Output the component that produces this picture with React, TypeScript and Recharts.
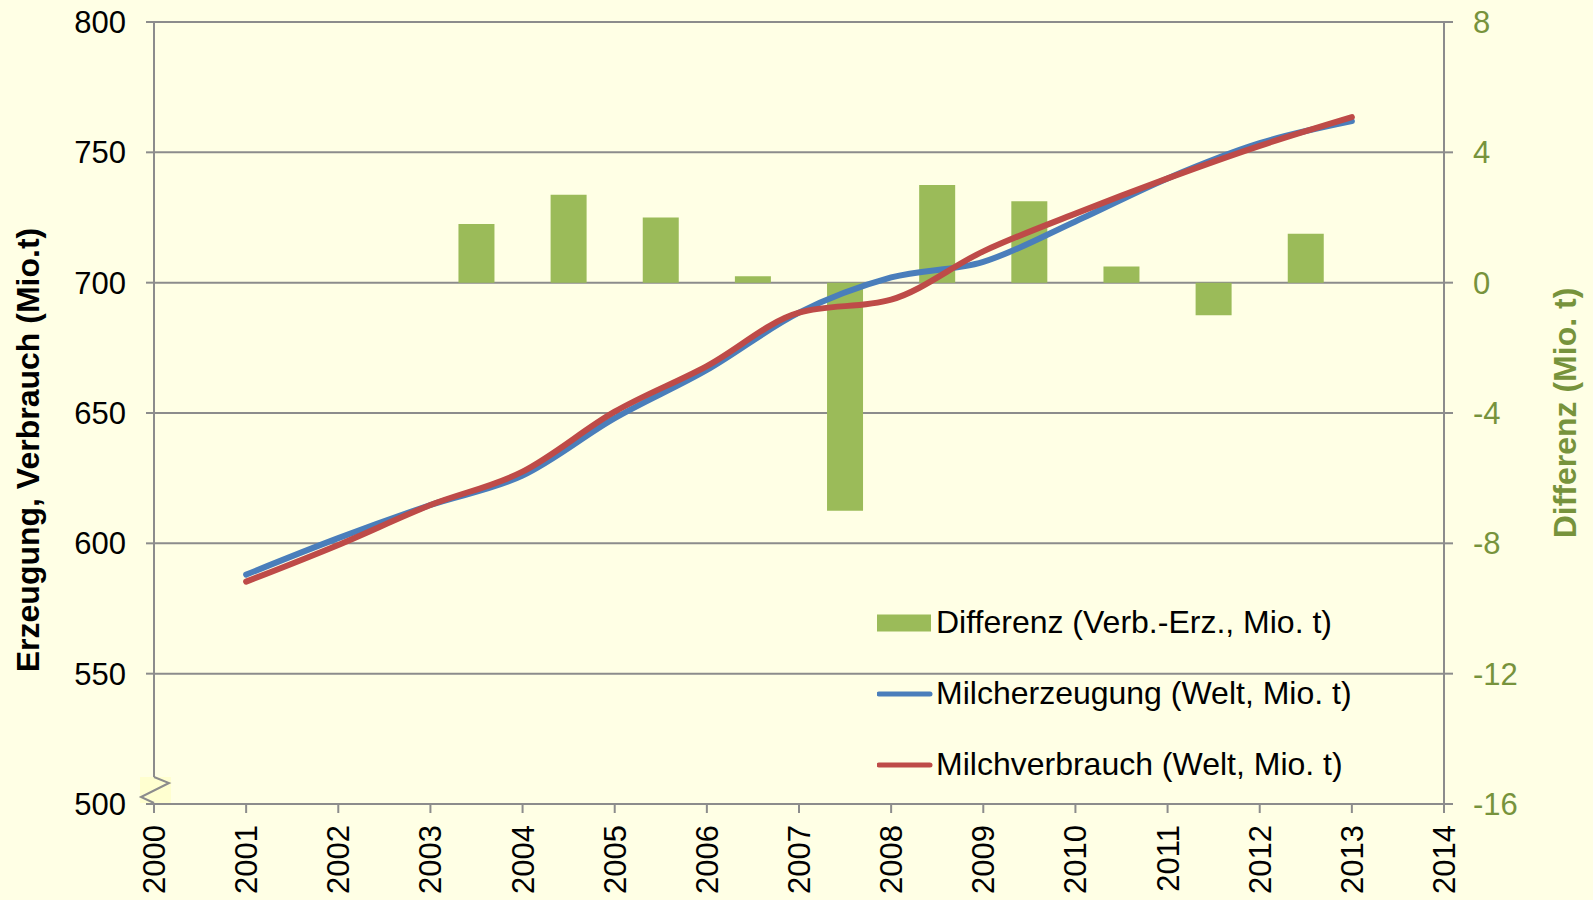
import React from "react";
import {
  Bar,
  CartesianGrid,
  ComposedChart,
  Legend,
  Line,
  XAxis,
  YAxis,
} from "recharts";

const years = [2001, 2002, 2003, 2004, 2005, 2006, 2007, 2008, 2009, 2010, 2011, 2012, 2013];
const erzeugung = [588, 602, 614.7, 626, 648, 666.5, 688.5, 702, 708, 723.5, 740, 753.5, 762];
const verbrauch = [585.3, 599.4, 614.7, 627.5, 650.5, 668, 688.5, 693.5, 712, 726.5, 740, 752.5, 763.5];

const diffYears = [2003.5, 2004.5, 2005.5, 2006.5, 2007.5, 2008.5, 2009.5, 2010.5, 2011.5, 2012.5];
const differenz = [1.8, 2.7, 2.0, 0.2, -7.0, 3.0, 2.5, 0.5, -1.0, 1.5];

const xTicks = [2000, 2001, 2002, 2003, 2004, 2005, 2006, 2007, 2008, 2009, 2010, 2011, 2012, 2013, 2014];
const leftTicks = [500, 550, 600, 650, 700, 750, 800];
const rightTicks = [-16, -12, -8, -4, 0, 4, 8];

const rows = [
  ...years.map((year, i) => ({ year, erzeugung: erzeugung[i], verbrauch: verbrauch[i] })),
  ...diffYears.map((year, i) => ({ year, differenz: differenz[i] })),
].sort((a, b) => a.year - b.year);

const FONT = "'Liberation Sans', Arial, sans-serif";
const GRID = "#8c8c8c";
const GREEN_TEXT = "#77933c";
const BG = "#ffffe5";

function YearTick({ x, y, payload }: any) {
  return (
    <g transform={`translate(${x},${y})`}>
      <text
        transform="rotate(-90)"
        textAnchor="end"
        dy="0.355em"
        fontSize={31}
        fontFamily={FONT}
        fill="#000"
      >
        {payload.value}
      </text>
    </g>
  );
}

// left tick; the lowest one also carries the axis-break mark
function LeftTick({ x, y, payload }: any) {
  const ax = x + 28;
  return (
    <g>
      {payload.value === 500 && (
        <g>
          <rect x={ax - 14} y={y - 27} width={31} height={26} fill="#ffffd0" />
          <polyline
            points={`${ax},${y - 27} ${ax + 15},${y - 21} ${ax - 13},${y - 7} ${ax},${y - 1}`}
            fill="none"
            stroke={GRID}
            strokeWidth={2}
          />
        </g>
      )}
      <text x={x} y={y} dy="0.355em" textAnchor="end" fontSize={31} fontFamily={FONT} fill="#000">
        {payload.value}
      </text>
    </g>
  );
}

function LegendBox({ payload }: any) {
  return (
    <div style={{ fontFamily: FONT, fontSize: 32, color: "#000" }}>
      {(payload || []).map((entry: any) => (
        <div key={entry.value} style={{ display: "flex", alignItems: "center", height: 71 }}>
          <svg width={59} height={20}>
            {entry.type === "rect" ? (
              <rect x={0} y={1.5} width={54} height={17} fill={entry.color} />
            ) : (
              <line x1={2} y1={10} x2={53} y2={10} stroke={entry.color} strokeWidth={5} strokeLinecap="round" />
            )}
          </svg>
          <span style={{ whiteSpace: "nowrap" }}>{entry.value}</span>
        </div>
      ))}
    </div>
  );
}

export default function App() {
  return (
    <div style={{ width: 1593, height: 900, background: BG }}>
      <style>{`body{margin:0;background:${BG};}`}</style>
      <ComposedChart
        width={1593}
        height={900}
        data={rows}
        margin={{ top: 22, right: 0, bottom: 0, left: 0 }}
        barGap={0}
      >
        <CartesianGrid horizontal vertical={false} stroke={GRID} strokeWidth={2} yAxisId="left" />
        <XAxis
          dataKey="year"
          type="number"
          domain={[2000, 2014]}
          ticks={xTicks}
          interval={0}
          height={96}
          tickSize={9}
          tickMargin={12}
          tick={<YearTick />}
          axisLine={{ stroke: GRID, strokeWidth: 2 }}
          tickLine={{ stroke: GRID, strokeWidth: 2 }}
        />
        <YAxis
          yAxisId="left"
          orientation="left"
          domain={[500, 800]}
          ticks={leftTicks}
          interval={0}
          width={154}
          tickSize={8}
          tickMargin={20}
          tick={<LeftTick />}
          axisLine={{ stroke: GRID, strokeWidth: 2 }}
          tickLine={{ stroke: GRID, strokeWidth: 2 }}
          label={{
            value: "Erzeugung, Verbrauch (Mio.t)",
            angle: -90,
            position: "center",
            dx: -49,
            dy: 37,
            fill: "#000",
            fontSize: 32,
            fontWeight: "bold",
            fontFamily: FONT,
          }}
        />
        <YAxis
          yAxisId="right"
          orientation="right"
          domain={[-16, 8]}
          ticks={rightTicks}
          interval={0}
          width={149}
          tickSize={9}
          tickMargin={20}
          tick={{ fill: GREEN_TEXT, fontSize: 31, fontFamily: FONT }}
          axisLine={{ stroke: GRID, strokeWidth: 2 }}
          tickLine={{ stroke: GRID, strokeWidth: 2 }}
          label={{
            value: "Differenz (Mio. t)",
            angle: -90,
            position: "center",
            dx: 46,
            fill: GREEN_TEXT,
            fontSize: 32,
            fontWeight: "bold",
            fontFamily: FONT,
          }}
        />
        <Legend
          layout="vertical"
          align="center"
          verticalAlign="middle"
          content={<LegendBox />}
          wrapperStyle={{ position: "absolute", left: 877, top: 587, width: 560 }}
        />
        <Bar
          yAxisId="right"
          dataKey="differenz"
          name="Differenz (Verb.-Erz., Mio. t)"
          fill="#9bbb59"
          barSize={36}
          legendType="rect"
          isAnimationActive={false}
        />
        <Line
          yAxisId="left"
          dataKey="erzeugung"
          name="Milcherzeugung (Welt, Mio. t)"
          type="monotone"
          stroke="#4a7ebb"
          strokeWidth={6}
          strokeLinecap="round"
          dot={false}
          activeDot={false}
          connectNulls
          legendType="line"
          isAnimationActive={false}
        />
        <Line
          yAxisId="left"
          dataKey="verbrauch"
          name="Milchverbrauch (Welt, Mio. t)"
          type="monotone"
          stroke="#be4b48"
          strokeWidth={6}
          strokeLinecap="round"
          dot={false}
          activeDot={false}
          connectNulls
          legendType="line"
          isAnimationActive={false}
        />
      </ComposedChart>
    </div>
  );
}
